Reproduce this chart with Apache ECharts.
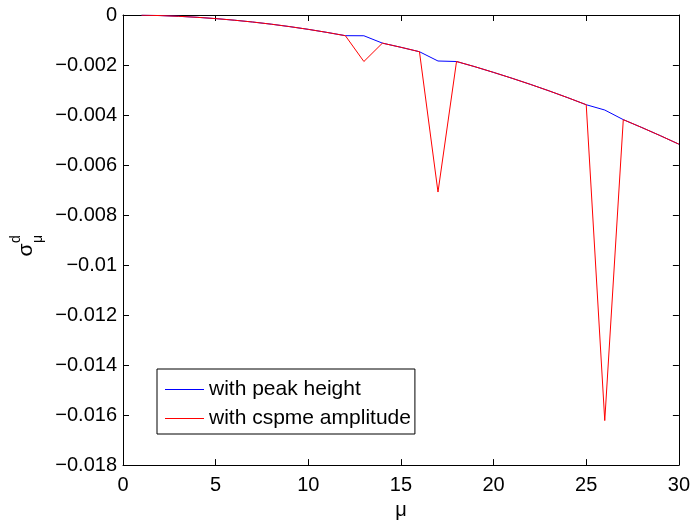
<!DOCTYPE html>
<html>
<head>
<meta charset="utf-8">
<script src="https://cdn.jsdelivr.net/npm/echarts@6/dist/echarts.min.js"></script>
<style>
html,body{margin:0;padding:0;background:#fff;}
#chart{width:693px;height:525px;}
</style>
</head>
<body>
<div id="chart"></div>
<script>
var mu = [1,2,3,4,5,6,7,8,9,10,11,12,13,14,15,16,17,18,19,20,21,22,23,24,25,26,27,28,29,30];
var peakHeight = [-0.000006,-0.000023,-0.000052,-0.000092,-0.000144,-0.000207,-0.000281,-0.000367,-0.000465,-0.000574,
  -0.000695,-0.000827,-0.00083,-0.001125,-0.001292,-0.001469,-0.00184,-0.00186,-0.00207,-0.002296,
  -0.002531,-0.002778,-0.003036,-0.003306,-0.003588,-0.0038,-0.004185,-0.0045,-0.004827,-0.005166];
var cspmeAmplitude = [-0.000006,-0.000023,-0.000052,-0.000092,-0.000144,-0.000207,-0.000281,-0.000367,-0.000465,-0.000574,
  -0.000695,-0.000827,-0.00186,-0.001125,-0.001292,-0.001469,-0.00708,-0.00186,-0.00207,-0.002296,
  -0.002531,-0.002778,-0.003036,-0.003306,-0.003588,-0.01622,-0.004185,-0.0045,-0.004827,-0.005166];
var seriesNames = ['with peak height', 'with cspme amplitude'];

var FONT = "'Liberation Sans', Arial, Helvetica, sans-serif";
function pairs(xs, ys){ return xs.map(function(x,i){ return [x, ys[i]]; }); }
function yFmt(v){
  var r = Math.round(v*1000)/1000;
  if (r === 0) return '0';
  return String(r).replace('-', '\u2212');
}
function axisLine(){ return {show:true, onZero:false, lineStyle:{color:'#000', width:1}}; }
function tick(){ return {show:true, inside:true, length:6, lineStyle:{color:'#000', width:1}}; }

var chart = echarts.init(document.getElementById('chart'), null, {renderer:'canvas'});
chart.setOption({
  animation:false,
  backgroundColor:'#fff',
  grid:{left:123, right:12, top:15, bottom:54, containLabel:false},
  xAxis:[
    {type:'value', min:0, max:30, interval:5, position:'bottom',
     axisLine:axisLine(), axisTick:tick(), splitLine:{show:false},
     axisLabel:{color:'#000', fontSize:20, fontFamily:FONT, margin:10},
     name:'\u03bc', nameLocation:'middle', nameGap:34,
     nameTextStyle:{color:'#000', fontSize:20, fontFamily:FONT}},
    {type:'value', min:0, max:30, interval:5, position:'top',
     axisLine:axisLine(), axisTick:tick(), splitLine:{show:false},
     axisLabel:{show:false}}
  ],
  yAxis:[
    {type:'value', min:-0.018, max:0, interval:0.002, position:'left',
     axisLine:axisLine(), axisTick:tick(), splitLine:{show:false},
     axisLabel:{color:'#000', fontSize:20, fontFamily:FONT, margin:6, formatter:yFmt}},
    {type:'value', min:-0.018, max:0, interval:0.002, position:'right',
     axisLine:axisLine(), axisTick:tick(), splitLine:{show:false},
     axisLabel:{show:false}}
  ],
  legend:{
    left:157, top:369, orient:'vertical',
    backgroundColor:'#fff', borderColor:'#000', borderWidth:1, borderRadius:0,
    padding:[10,4,5,8], itemWidth:39, itemHeight:1, itemGap:8, icon:'rect',
    itemStyle:{borderWidth:0},
    textStyle:{color:'#000', fontSize:21, lineHeight:20, fontFamily:FONT},
    data:seriesNames
  },
  series:[
    {name:seriesNames[0], type:'line', xAxisIndex:0, yAxisIndex:0, symbol:'none',
     data:pairs(mu, peakHeight), lineStyle:{color:'#0000ff', width:1}, itemStyle:{color:'#0000ff'}},
    {name:seriesNames[1], type:'line', xAxisIndex:0, yAxisIndex:0, symbol:'none',
     data:pairs(mu, cspmeAmplitude), lineStyle:{color:'#ff0000', width:1}, itemStyle:{color:'#ff0000'}}
  ],
  graphic:[{
    type:'group', x:30, y:252, rotation:Math.PI/2,
    children:[
      {type:'text', x:2, y:-4, style:{text:'\u03c3', font:'21px '+FONT, fill:'#000', align:'center', verticalAlign:'middle'}},
      {type:'text', x:9, y:-14, style:{text:'d', font:'14px '+FONT, fill:'#000', align:'left', verticalAlign:'middle'}},
      {type:'text', x:9, y:8, style:{text:'\u03bc', font:'14px '+FONT, fill:'#000', align:'left', verticalAlign:'middle'}}
    ]
  }]
});
</script>
</body>
</html>
